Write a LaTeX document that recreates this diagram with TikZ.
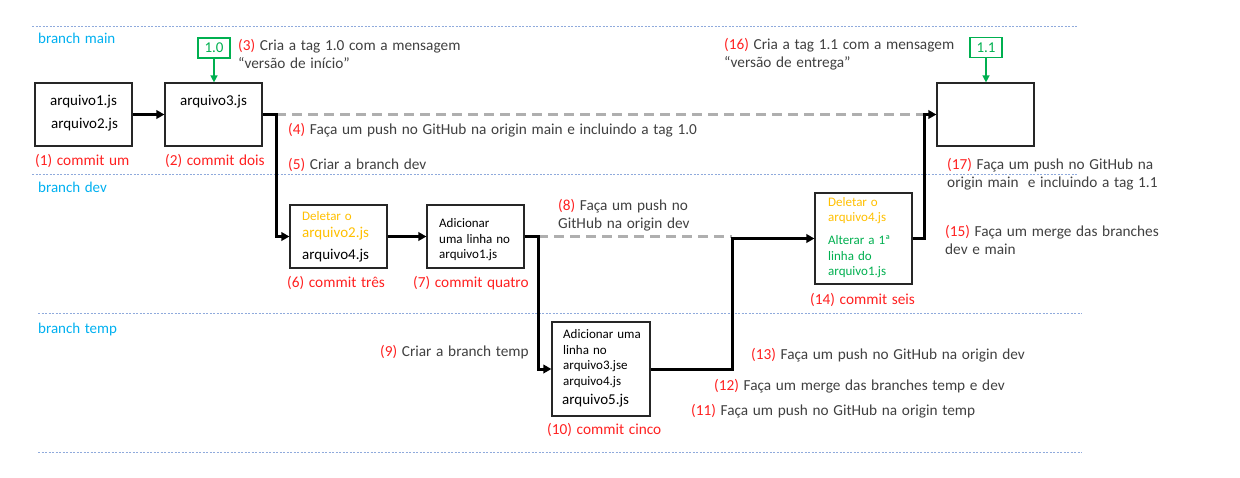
\documentclass[tikz,border=0pt]{standalone}
\usepackage{fontspec}
\setmainfont{Carlito}[WordSpace=1.35]
\usetikzlibrary{arrows.meta}
\definecolor{lred}{HTML}{FF2020}
\definecolor{tgray}{HTML}{404040}
\definecolor{bcyan}{HTML}{00B0F0}
\definecolor{torange}{HTML}{FFC000}
\definecolor{tgreen}{HTML}{00B050}
\definecolor{dgray}{HTML}{AFAFAF}
\definecolor{sepblue}{HTML}{8FAADC}
\definecolor{boxgray}{HTML}{262626}
\newcommand\fsz[2]{\fontsize{#1}{#2}\selectfont}
\begin{document}
\begin{tikzpicture}[x=1pt,y=-1pt,
  commitbox/.style={draw=boxgray, line width=1.2pt, minimum width=97pt, minimum height=63pt, inner sep=0pt, fill=white},
  tagbox/.style={draw=tgreen, line width=1.2pt, text=tgreen, minimum width=32pt, minimum height=20pt, inner sep=0pt, font=\fsz{15}{18}},
  conn/.style={line width=3pt, black, line join=miter, -{Triangle[length=8pt,width=8.5pt]}},
  tagarrow/.style={line width=1.4pt, tgreen, -{Triangle[length=7pt,width=7pt]}},
  push/.style={line width=3pt, dgray, dash pattern=on 10pt off 6pt},
  sep/.style={line width=1pt, sepblue, dash pattern=on 2pt off 1.5pt},
  lbl/.style={anchor=west, inner sep=0pt, text=tgray, font=\fsz{15.3}{18}, align=left},
  brl/.style={anchor=west, inner sep=0pt, text=bcyan, font=\fsz{15}{18}},
  cml/.style={anchor=west, inner sep=0pt, text=lred, font=\fsz{15.3}{18}},
  big/.style={anchor=west, inner sep=0pt, font=\fsz{15}{18}},
  small/.style={anchor=west, inner sep=0pt, font=\fsz{13}{16}},
  mid/.style={inner sep=0pt, font=\fsz{15}{18}}
]
\useasboundingbox (0,0) rectangle (1240,477);

% separators
\draw[sep] (32,26) -- (1077,26);
\draw[sep] (32,174) -- (1077,174);
\draw[sep] (38,313) -- (1082,313);
\draw[sep] (38,452) -- (1082,452);

% branch labels
\node[brl] (bmain) at (38,38) {branch main};
\node[brl] (bdev) at (38,187) {branch dev};
\node[brl] (btemp) at (38,329) {branch temp};

% commit boxes
\node[commitbox] (b1) at (83.5,114.5) {};
\node[commitbox] (b2) at (213.5,114.5) {};
\node[commitbox] (fin) at (985.5,114.5) {};
\node[commitbox] (dev1) at (338.5,236.5) {};
\node[commitbox] (dev2) at (475.5,236.5) {};
\node[commitbox, minimum height=91pt] (seis) at (863.5,238.5) {};
\node[commitbox, minimum width=98pt, minimum height=94pt] (temp) at (601,369) {};

% tags
\node[tagbox] (tag10) at (214,48) {1.0};
\node[tagbox] (tag11) at (986,47.5) {1.1};
\draw[tagarrow] (tag10) -- (b2.north -| tag10);
\draw[tagarrow] (tag11) -- (fin.north -| tag11);

% junctions
\coordinate (j1) at (276,114.5);
\coordinate (j2) at (538,236.5);
\coordinate (j3) at (732,238.5);
\coordinate (j4) at (924,114.5);

% push (dashed) lines
\draw[push] (j1) -- (j1 -| j4);
\draw[push] (j2) -- (j2 -| j3);

% connectors
\draw[conn] (b1) -- (b2);
\draw[conn] (b2.east) -- (j1) |- (dev1.west);
\draw[conn] (dev1) -- (dev2);
\draw[conn] (dev2.east) -- (j2) |- (temp.west);
\draw[conn] (temp.east) -| (j3) -- (seis.west);
\draw[conn] (seis.east) -| (j4) -- (fin.west);

% box texts
\node[mid] (t11) at (83.5,102) {arquivo1.js};
\node[mid] (t12) at (84.5,125) {arquivo2.js};
\node[mid] (t21) at (213.5,102) {arquivo3.js};

\node[small, text=torange] (d11) at (302,216) {Deletar o};
\node[big, text=torange] (d12) at (302,234) {arquivo2.js};
\node[big] (d13) at (302,256) {arquivo4.js};

\node[small] (d21) at (439,223) {Adicionar};
\node[small] (d22) at (439,239) {uma linha no};
\node[small] (d23) at (439,255) {arquivo1.js};

\node[small, text=torange] (s1) at (828,202) {Deletar o};
\node[small, text=torange] (s2) at (828,218) {arquivo4.js};
\node[small, text=tgreen] (s3) at (828,240) {Alterar a 1ª};
\node[small, text=tgreen] (s4) at (828,256) {linha do};
\node[small, text=tgreen] (s5) at (828,272) {arquivo1.js};

\node[small] (p1) at (563,334) {Adicionar uma};
\node[small] (p2) at (563,350) {linha no};
\node[small] (p3) at (563,366) {arquivo3.jse};
\node[small] (p4) at (563,382) {arquivo4.js};
\node[big] (p5) at (562,401) {arquivo5.js};

% commit labels
\node[cml] (c1) at (35,161) {(1) commit um};
\node[cml] (c2) at (165,161) {(2) commit dois};
\node[cml] (c6) at (287,283) {(6) commit três};
\node[cml] (c7) at (413,283) {(7) commit quatro};
\node[cml] (c10) at (547,430) {(10) commit cinco};
\node[cml] (c14) at (810,300) {(14) commit seis};

% step labels
\node[lbl] (l3) at (238,54) {\textcolor{lred}{(3)} Cria a tag 1.0 com a mensagem\\“versão de início”};
\node[lbl] (l4) at (288,130) {\textcolor{lred}{(4)} Faça um push no GitHub na origin main e incluindo a tag 1.0};
\node[lbl] (l5) at (288,165) {\textcolor{lred}{(5)} Criar a branch dev};
\node[lbl] (l8) at (558,215) {\textcolor{lred}{(8)} Faça um push no\\GitHub na origin dev};
\node[lbl] (l9) at (380,352) {\textcolor{lred}{(9)} Criar a branch temp};
\node[lbl] (l11) at (691,411) {\textcolor{lred}{(11)} Faça um push no GitHub na origin temp};
\node[lbl] (l12) at (714,386) {\textcolor{lred}{(12)} Faça um merge das branches temp e dev};
\node[lbl] (l13) at (751,355) {\textcolor{lred}{(13)} Faça um push no GitHub na origin dev};
\node[lbl] (l15) at (945,240) {\textcolor{lred}{(15)} Faça um merge das branches\\dev e main};
\node[lbl] (l16) at (724,54) {\textcolor{lred}{(16)} Cria a tag 1.1 com a mensagem\\“versão de entrega”};
\node[lbl] (l17) at (947,174) {\textcolor{lred}{(17)} Faça um push no GitHub na\\origin main\ \ e incluindo a tag 1.1};
\end{tikzpicture}
\end{document}
